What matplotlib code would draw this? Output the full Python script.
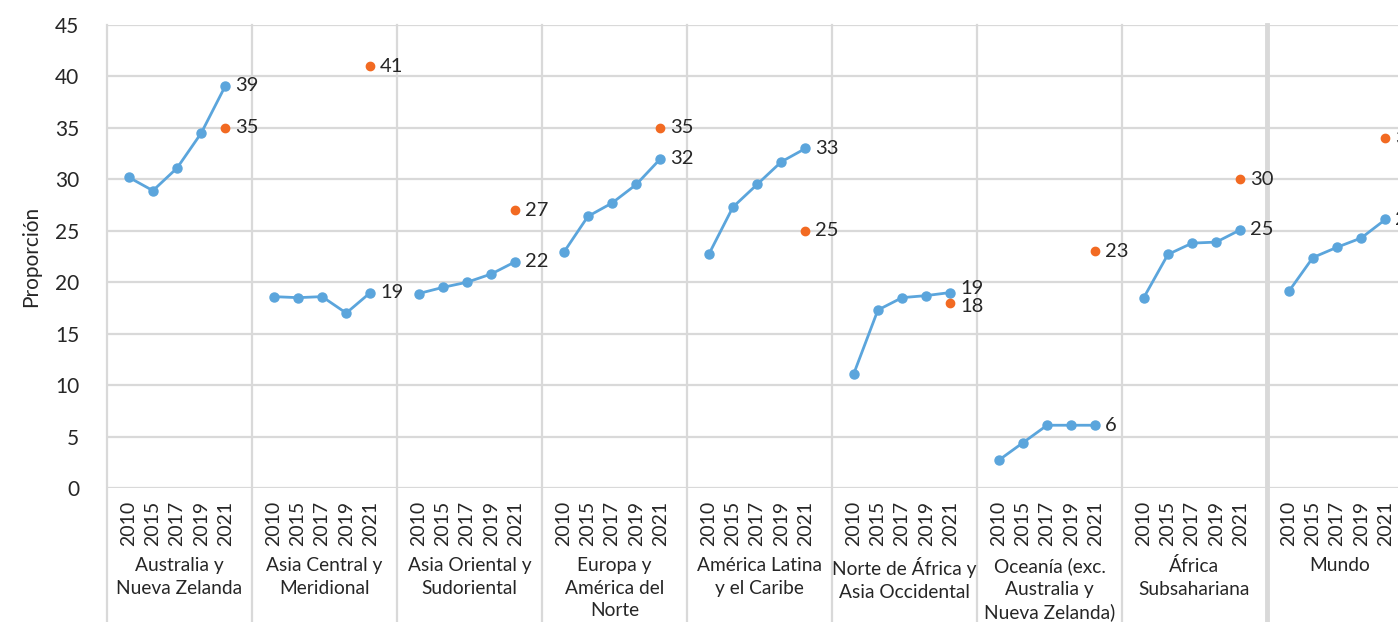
import numpy as np
import matplotlib.pyplot as plt

plt.rcParams['font.family'] = ['Lato', 'DejaVu Sans']

# Regions, years and values
regions = ["Australia y\nNueva Zelanda", "Asia Central y\nMeridional",
           "Asia Oriental y\nSudoriental", "Europa y\nAmérica del\nNorte",
           "América Latina\ny el Caribe", "Norte de África y\nAsia Occidental",
           "Oceanía (exc.\nAustralia y\nNueva Zelanda)", "África\nSubsahariana",
           "Mundo"]
years = ["2010", "2015", "2017", "2019", "2021"]

serie_azul = [
    [30.2, 28.9, 31.1, 34.5, 39.1],
    [18.6, 18.5, 18.6, 17.0, 19.0],
    [18.9, 19.5, 20.0, 20.8, 22.0],
    [22.9, 26.4, 27.7, 29.5, 32.0],
    [22.7, 27.3, 29.5, 31.7, 33.0],
    [11.1, 17.3, 18.5, 18.7, 19.0],
    [2.7, 4.4, 6.1, 6.1, 6.1],
    [18.5, 22.7, 23.8, 23.9, 25.1],
    [19.1, 22.4, 23.4, 24.3, 26.1],
]
serie_naranja = [35, 41, 27, 35, 25, 18, 23, 30, 34]

AZUL = '#5BA5DC'
NARANJA = '#F26A22'
GRIS = '#D9D9D9'
TEXTO = '#262626'

SLOTS = 6       # slots per group (5 years + spacing)
OFFSET = 0.9    # position of the first year within a group

fig = plt.figure(figsize=(13.98, 6.22), dpi=100)
W, H = 1398, 622
ax = fig.add_axes([107 / W, 134 / H, 1305 / W, 463 / H])
ax.set_xlim(0, SLOTS * len(regions))
ax.set_ylim(0, 45)

# horizontal grid
ax.set_yticks(np.arange(0, 46, 5))
ax.yaxis.grid(True, color=GRIS, linewidth=1.6)
ax.set_axisbelow(True)
for s in ax.spines.values():
    s.set_visible(False)

trans = ax.get_xaxis_transform()
# group separators running down into the label area
for g in range(len(regions) + 1):
    lw = 3.5 if g == len(regions) - 1 else 1.6
    ax.plot([g * SLOTS, g * SLOTS], [1, -0.6], transform=trans, color=GRIS,
            linewidth=lw, clip_on=False, zorder=0)

xticks, xlabels = [], []
for g, region in enumerate(regions):
    xs = g * SLOTS + OFFSET + np.arange(len(years))
    ys = serie_azul[g]
    ax.plot(xs, ys, color=AZUL, linewidth=2.0, marker='o', markersize=6.5,
            zorder=3, clip_on=False)
    ax.plot(xs[-1], serie_naranja[g], 'o', color=NARANJA, markersize=6,
            zorder=3, clip_on=False)

    # value labels, nudged apart when they collide
    vb, vo = ys[-1], serie_naranja[g]
    db, do = 0, 0
    if abs(vb - vo) < 2:
        db, do = (3, -3) if vb >= vo else (-3, 3)
    ax.annotate(f"{vb:.0f}", (xs[-1], vb), xytext=(7, db), textcoords='offset points',
                va='center', ha='left', fontsize=14.5, color=TEXTO, annotation_clip=False)
    ax.annotate(f"{vo:.0f}", (xs[-1], vo), xytext=(7, do), textcoords='offset points',
                va='center', ha='left', fontsize=14.5, color=TEXTO, annotation_clip=False)

    xticks.extend(xs)
    xlabels.extend(years)
    ax.text(g * SLOTS + SLOTS / 2, -0.15, region, transform=trans, ha='center',
            va='top', fontsize=13.8, color=TEXTO, linespacing=1.38)

ax.set_xticks(xticks)
ax.set_xticklabels(xlabels, rotation=90, fontsize=14, color=TEXTO)
ax.tick_params(axis='x', length=0, pad=9)
ax.tick_params(axis='y', length=0, pad=20, labelsize=15, labelcolor=TEXTO)

ax.set_ylabel("Proporción", fontsize=15, color=TEXTO, labelpad=10)

fig.savefig("out.png", dpi=100)
